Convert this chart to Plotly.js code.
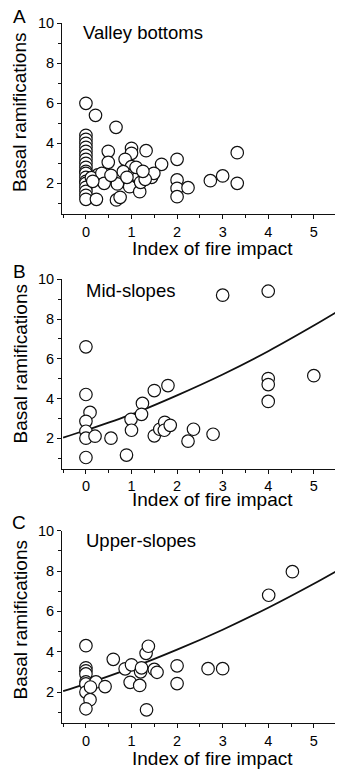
<!DOCTYPE html>
<html>
<head>
<meta charset="utf-8">
<script src="https://cdn.plot.ly/plotly-3.0.1.min.js"></script>
<style>html,body{margin:0;padding:0;background:#fff;}#chart{width:337px;height:772px;}</style>
</head>
<body>
<div id="chart"></div>
<script>
// Panel A: Valley bottoms
const valleyX = [0,0,0,0,0,0,0,0,0,0,0,0,0,0,0,0,0,0,0,
  0.21,0.66,0.49,1.0,1.0,1.32,0.49,0.86,1.0,1.66,2.0,3.32,0.26,0.12,0.49,0.82,1.07,1.44,1.49,0.69,0.96,1.18,0.23,0.67,0.75,2.0,2.0,2.0,2.24,2.73,3.0,3.32,0.35,1.15,1.2,0.9,1.3,0.4,0.15,1.1,0.55,1.25];
const valleyY = [6.0,4.4,4.2,4.0,3.8,3.6,3.4,3.2,3.0,2.8,2.6,2.5,2.3,2.1,2.0,1.8,1.6,1.4,1.2,
  5.4,4.8,3.6,3.75,3.5,3.63,3.05,3.2,2.83,2.95,3.2,3.53,2.42,2.28,2.25,2.58,2.53,2.3,2.5,1.97,1.83,1.58,1.2,1.17,1.3,2.17,1.75,1.33,1.78,2.13,2.37,2.0,2.5,2.3,2.05,2.3,2.2,2.0,2.1,2.8,2.4,2.6];

// Panel B: Mid-slopes
const midX = [0,3.0,4.0,0,0.09,0,0,0,0.2,0,0.55,0.89,0.99,1.0,1.24,1.22,1.5,1.5,1.8,1.62,1.73,1.72,1.85,2.24,2.36,2.79,4.0,4.0,4.0,5.0];
const midY = [6.6,9.2,9.4,4.2,3.3,2.85,2.35,2.0,2.1,1.03,2.0,1.15,2.95,2.4,3.75,3.2,4.4,2.12,4.65,2.45,2.8,2.4,2.65,1.85,2.45,2.2,5.0,4.7,3.85,5.15];
const midFitX = [-0.5,0,1,2,3,4,5,5.5];
const midFitY = [2.03,2.4,3.2,4.16,5.21,6.38,7.67,8.35];

// Panel C: Upper-slopes
const upperX = [0,0,0,0,0,0,0,0.09,0,0.22,0.42,0.6,0.86,1.0,0.97,1.18,1.2,1.22,1.32,1.37,1.33,1.5,1.56,2.0,2.0,2.68,3.0,4.01,4.53,0.1];
const upperY = [4.3,3.2,3.05,2.9,2.5,2.4,2.0,1.62,1.17,2.5,2.27,3.62,3.15,3.35,2.48,2.33,3.0,3.2,3.92,4.27,1.12,3.12,2.98,3.3,2.42,3.16,3.16,6.8,7.97,2.25];
const upperFitX = [-0.5,0,1,2,3,4,5,5.5];
const upperFitY = [2.04,2.4,3.2,4.1,5.09,6.18,7.37,8.0];

const xTicks = [0,1,2,3,4,5];
const yTicks = [2,4,6,8,10];
const panelLetters = ['A','B','C'];
const panelNames = ['Valley bottoms','Mid-slopes','Upper-slopes'];
const xTitle = 'Index of fire impact';
const yTitle = 'Basal ramifications';

const H = 772, W = 337, L = 62, R = 2;
const PW = W - L - R;
const py = px => 1 - px / H;
const pxx = px => (px - L) / PW;

const FONT = 'Liberation Sans, Arial, Helvetica, sans-serif';
const marker = {symbol:'circle', size:12.5, color:'#ffffff', line:{color:'#111', width:1.2}};

const traces = [
  {x: valleyX, y: valleyY, xaxis:'x', yaxis:'y', type:'scatter', mode:'markers', marker: marker, hoverinfo:'skip'},
  {x: midFitX, y: midFitY, xaxis:'x2', yaxis:'y2', type:'scatter', mode:'lines', line:{color:'#111', width:1.8, shape:'spline'}, hoverinfo:'skip'},
  {x: midX, y: midY, xaxis:'x2', yaxis:'y2', type:'scatter', mode:'markers', marker: marker, hoverinfo:'skip'},
  {x: upperFitX, y: upperFitY, xaxis:'x3', yaxis:'y3', type:'scatter', mode:'lines', line:{color:'#111', width:1.8, shape:'spline'}, hoverinfo:'skip'},
  {x: upperX, y: upperY, xaxis:'x3', yaxis:'y3', type:'scatter', mode:'markers', marker: marker, hoverinfo:'skip'}
];

const domains = [[214.3, 23.3],[469, 279.3],[723.3, 530.7]];

function xa(anchor){
  return {anchor: anchor, domain:[0,1], range:[-0.525,5.465], showgrid:false, zeroline:false,
    showline:true, linecolor:'#111', linewidth:1, ticks:'outside', ticklen:4, tickwidth:1, tickcolor:'#111',
    ticklabelstandoff: 0,
    tickvals: xTicks, ticktext: xTicks.map(String), tickfont:{family:FONT, size:14.5, color:'#000'},
    minor:{dtick:0.5, tick0:0, ticks:'outside', ticklen:3, tickcolor:'#111', tickwidth:1, showgrid:false}};
}
function ya(anchor, d){
  return {anchor: anchor, domain:[py(d[0]), py(d[1])], range:[0.45,10], showgrid:false, zeroline:false,
    showline:true, linecolor:'#111', linewidth:1, ticks:'outside', ticklen:4, tickwidth:1, tickcolor:'#111',
    tickvals: yTicks, ticktext: yTicks.map(String), tickfont:{family:FONT, size:14.5, color:'#000'},
    minor:{dtick:1, tick0:1, ticks:'outside', ticklen:3, tickcolor:'#111', tickwidth:1, showgrid:false}};
}

const letterY = [17, 271, 522];
const nameY = [32.7, 290, 540];
const nameX = [81, 84, 84];
const xTitleY = [248, 499.5, 758];
const yTitleY = [112.5, 364, 620];

const annotations = [];
for (let i = 0; i < 3; i++) {
  annotations.push({xref:'paper', yref:'paper', x:pxx(19), y:py(letterY[i]), xanchor:'center', yanchor:'middle',
    text: panelLetters[i], showarrow:false, font:{family:FONT, size:19, color:'#000'}});
  annotations.push({xref:'paper', yref:'paper', x:pxx(nameX[i]), y:py(nameY[i]), xanchor:'left', yanchor:'middle',
    text: panelNames[i], showarrow:false, font:{family:FONT, size:18.5, color:'#000'}});
  annotations.push({xref:'paper', yref:'paper', x:pxx(212.5), y:py(xTitleY[i]), xanchor:'center', yanchor:'middle',
    text: xTitle, showarrow:false, font:{family:FONT, size:19, color:'#000'}});
  annotations.push({xref:'paper', yref:'paper', x:pxx(19.5), y:py(yTitleY[i]), xanchor:'center', yanchor:'middle',
    text: yTitle, textangle:-90, showarrow:false, font:{family:FONT, size:19, color:'#000'}});
}

const layout = {
  width: W, height: H,
  margin: {l:L, r:R, t:0, b:0, pad:0},
  paper_bgcolor:'#fff', plot_bgcolor:'#fff',
  showlegend:false,
  font:{family:FONT, color:'#000'},
  xaxis: xa('y'), yaxis: ya('x', domains[0]),
  xaxis2: xa('y2'), yaxis2: ya('x2', domains[1]),
  xaxis3: xa('y3'), yaxis3: ya('x3', domains[2]),
  annotations: annotations
};

Plotly.newPlot('chart', traces, layout, {staticPlot:true, displayModeBar:false});
</script>
</body>
</html>
